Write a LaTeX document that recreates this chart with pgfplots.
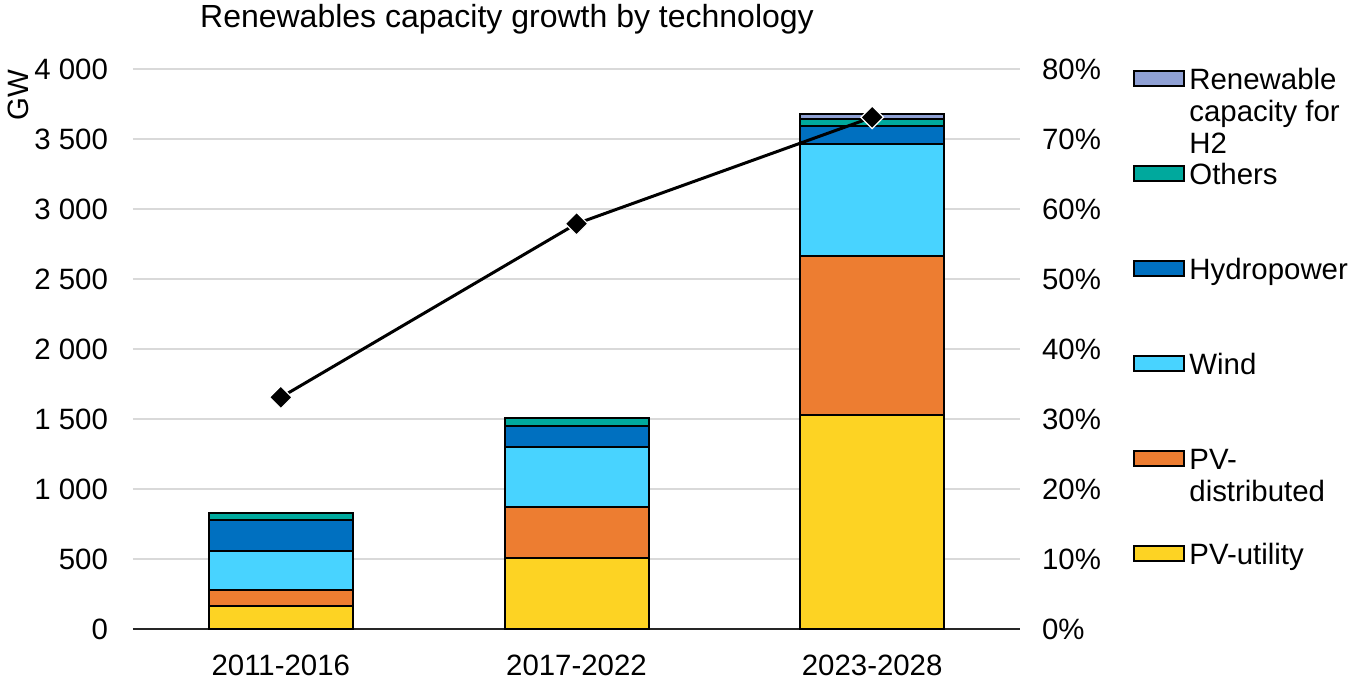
\documentclass[border=0pt]{standalone}
\usepackage{pgfplots}
\pgfplotsset{compat=1.18}
\usepackage{fontspec}
\setmainfont{Liberation Sans}
\definecolor{pvutil}{HTML}{FDD323}
\definecolor{pvdist}{HTML}{ED7D31}
\definecolor{wind}{HTML}{48D3FF}
\definecolor{hydro}{HTML}{0070C0}
\definecolor{others}{HTML}{00A99D}
\definecolor{htwo}{HTML}{8FA0D4}
\definecolor{gridgray}{HTML}{D9D9D9}
\newcommand{\legtext}[1]{\begin{tabular}[t]{@{}l@{}}#1\end{tabular}}
\begin{document}
\begin{tikzpicture}[font=\fontsize{14.7}{16}\selectfont]
\useasboundingbox (-66.5pt,-26.5pt) rectangle (607.5pt,314.5pt);
\begin{axis}[
  at={(0,0)}, anchor=south west,
  scale only axis, width=443.5pt, height=280pt,
  xmin=-0.5, xmax=2.5, ymin=0, ymax=4000,
  xtick=data, xticklabels={2011-2016,2017-2022,2023-2028},
  ytick={0,500,...,4000},
  ybar stacked, bar width=72pt,
  axis x line*=bottom, axis y line*=left,
  x axis line style={draw=black!85, line width=1pt, -},
  y axis line style={draw=none},
  tick style={draw=none},
  ymajorgrids, grid style={gridgray, line width=1pt},
  /pgf/number format/assume math mode=true,
  /pgf/number format/1000 sep={\ },
  yticklabel style={xshift=-9pt},
  xticklabel style={yshift=-9.5pt},
  ylabel=GW, ylabel style={at={(axis description cs:-0.1297,0.9536)}, anchor=center},
  legend style={at={(1.1274,1.01)}, anchor=north west, draw=none, fill=none,
    inner sep=0pt, row sep=0pt, column sep=0pt,
    nodes={text height=11pt, text depth=32.5pt}},
  legend cell align=left,
  reverse legend,
  every axis plot post/.append style={draw=black, line width=1pt,
    legend image code/.code={\draw[##1,line width=1pt] (0pt,12.5pt) rectangle (25pt,20pt);}},
]
\addplot[fill=pvutil] coordinates {(0,164) (1,507) (2,1529)};
\addlegendentry{\legtext{PV-utility}}
\addplot[fill=pvdist] coordinates {(0,115) (1,364) (2,1135)};
\addlegendentry{\legtext{PV-\\distributed}}
\addplot[fill=wind] coordinates {(0,278) (1,429) (2,800)};
\addlegendentry{\legtext{Wind}}
\addplot[fill=hydro] coordinates {(0,222) (1,150) (2,129)};
\addlegendentry{\legtext{Hydropower}}
\addplot[fill=others] coordinates {(0,50) (1,57) (2,50)};
\addlegendentry{\legtext{Others}}
\addplot[fill=htwo] coordinates {(0,0) (1,0) (2,36)};
\addlegendentry{\legtext{Renewable\\capacity for\\H2}}
\end{axis}
\begin{axis}[
  at={(0,0)}, anchor=south west,
  scale only axis, width=443.5pt, height=280pt,
  xmin=-0.5, xmax=2.5, ymin=0, ymax=80,
  ytick={0,10,...,80},
  axis y line*=right, axis x line=none,
  y axis line style={draw=none},
  tick style={draw=none},
  /pgf/number format/assume math mode=true,
  yticklabel={\pgfmathprintnumber{\tick}\%},
  yticklabel style={xshift=7.5pt},
]
\addplot[black, line width=1.5pt, mark=square*, mark size=4pt,
  mark options={fill=black, draw=white, line width=0.6pt, rotate=45}]
  coordinates {(0,33.1) (1,57.9) (2,73.1)};
\end{axis}
\node[anchor=base, font=\fontsize{16}{18}\selectfont] at (187pt,301pt) {Renewables capacity growth by technology};
\end{tikzpicture}
\end{document}
